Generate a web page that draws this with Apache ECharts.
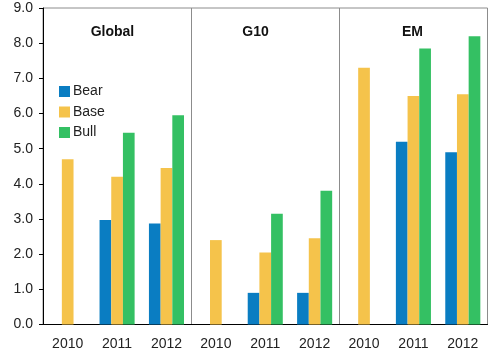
<!DOCTYPE html>
<html>
<head>
<meta charset="utf-8">
<script src="https://cdn.jsdelivr.net/npm/echarts@6/dist/echarts.min.js"></script>
<style>
html,body{margin:0;padding:0;background:#fff;}
#chart{width:500px;height:354px;}
</style>
</head>
<body>
<div id="chart"></div>
<script>
const panels = ['Global', 'G10', 'EM'];
const years = ['2010', '2011', '2012'];
const yTicks = [0, 1, 2, 3, 4, 5, 6, 7, 8, 9];
const seriesNames = ['Bear', 'Base', 'Bull'];
const bear = [null, 2.97, 2.87, null, 0.9, 0.9, null, 5.2, 4.9];
const base = [4.7, 4.2, 4.45, 2.4, 2.05, 2.45, 7.3, 6.5, 6.55];
const bull = [null, 5.45, 5.95, null, 3.15, 3.8, null, 7.85, 8.2];
const colors = ['#0A7DC2', '#F5C34B', '#34C063'];
const titleOffsets = [-4.6, -9.7, -1];

const categories = [];
panels.forEach(p => years.forEach(y => categories.push(p + '|' + y)));

const chart = echarts.init(document.getElementById('chart'), null, {renderer: 'canvas'});
const font = 'Liberation Sans, Arial, sans-serif';

chart.setOption({
  animation: false,
  color: colors,
  grid: {left: 43, right: 12.5, top: 8, bottom: 29.5, show: true, borderColor: '#8c8c8c', borderWidth: 1, containLabel: false},
  legend: {
    data: seriesNames, orient: 'vertical', left: 54, top: 79.5,
    itemWidth: 11, itemHeight: 11, itemGap: 6.5, icon: 'rect',
    textStyle: {fontFamily: font, fontSize: 14, color: '#222', padding: [0, 0, 0, -2]}
  },
  xAxis: {
    type: 'category', data: categories,
    axisLine: {lineStyle: {color: '#000', width: 1}},
    axisTick: {length: 5, lineStyle: {color: '#000'}},
    axisLabel: {fontFamily: font, fontSize: 14, color: '#222', margin: 13, formatter: v => v.split('|')[1]},
    splitLine: {show: true, interval: (i) => i === 3 || i === 6, lineStyle: {color: '#8c8c8c', width: 1}}
  },
  yAxis: {
    type: 'value', min: yTicks[0], max: yTicks[yTicks.length - 1], interval: 1,
    axisLine: {show: true, lineStyle: {color: '#000', width: 1}},
    axisTick: {show: true, length: 4, lineStyle: {color: '#000'}},
    axisLabel: {fontFamily: font, fontSize: 14, color: '#222', margin: 10, formatter: v => v.toFixed(1)},
    splitLine: {show: false}
  },
  series: [
    {name: 'Bear', type: 'bar', data: bear, barGap: '0%', barCategoryGap: '29%'},
    {name: 'Base', type: 'bar', data: base, barGap: '0%', barCategoryGap: '29%'},
    {name: 'Bull', type: 'bar', data: bull, barGap: '0%', barCategoryGap: '29%'}
  ]
});

// panel titles placed over each panel's middle category
const titleY = chart.convertToPixel({yAxisIndex: 0}, 8.3);
const graphics = panels.map((p, k) => {
  const cx = chart.convertToPixel({xAxisIndex: 0}, categories[k * 3 + 1]) + titleOffsets[k];
  return {type: 'text', x: cx, y: titleY, style: {text: p, font: 'bold 14px ' + font, fill: '#111', textAlign: 'center', textVerticalAlign: 'middle'}};
});
chart.setOption({graphic: graphics});
</script>
</body>
</html>
